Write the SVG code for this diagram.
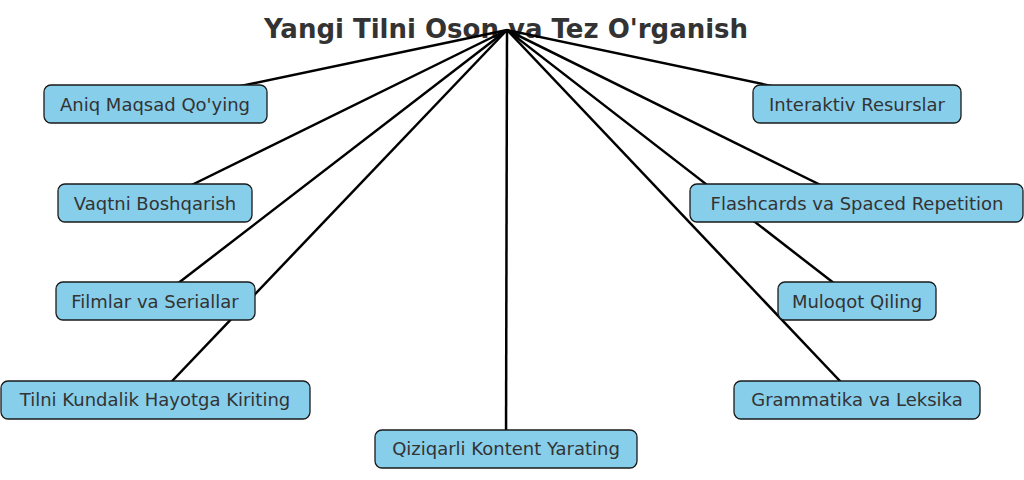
<svg xmlns="http://www.w3.org/2000/svg" width="1024" height="480" viewBox="0 0 1024 480">
<style>
.t{font-family:"DejaVu Sans",sans-serif;font-size:18px;fill:#333;text-anchor:middle;dominant-baseline:central}
.b{fill:#87CEEB;stroke:#1a1a1a;stroke-width:1.3}
.l{stroke:#000;stroke-width:2.5;fill:none}
</style>
<rect width="1024" height="480" fill="#fff"/>
<text x="506" y="29" style="font-family:'DejaVu Sans',sans-serif;font-weight:bold;font-size:26px;fill:#333;text-anchor:middle;dominant-baseline:central">Yangi Tilni Oson va Tez O'rganish</text>
<g id="connectors">
<line class="l" x1="507" y1="30" x2="155" y2="104"/>
<line class="l" x1="507" y1="30" x2="155" y2="203"/>
<line class="l" x1="507" y1="30" x2="155" y2="301"/>
<line class="l" x1="507" y1="30" x2="155" y2="399"/>
<line class="l" x1="507" y1="30" x2="506" y2="448"/>
<line class="l" x1="507" y1="30" x2="857" y2="104"/>
<line class="l" x1="507" y1="30" x2="857" y2="203"/>
<line class="l" x1="507" y1="30" x2="857" y2="301"/>
<line class="l" x1="507" y1="30" x2="857" y2="399"/>
</g>
<g id="n1"><rect class="b" x="44" y="85" width="223" height="38" rx="7"/><text class="t" x="155" y="104">Aniq Maqsad Qo'ying</text></g>
<g id="n2"><rect class="b" x="58" y="184" width="194" height="38" rx="7"/><text class="t" x="155" y="203">Vaqtni Boshqarish</text></g>
<g id="n3"><rect class="b" x="56" y="282" width="199" height="38" rx="7"/><text class="t" x="155" y="301">Filmlar va Seriallar</text></g>
<g id="n4"><rect class="b" x="1" y="381" width="309" height="38" rx="7"/><text class="t" x="155" y="399">Tilni Kundalik Hayotga Kiriting</text></g>
<g id="n5"><rect class="b" x="375" y="430" width="262" height="38" rx="7"/><text class="t" x="506" y="448">Qiziqarli Kontent Yarating</text></g>
<g id="n6"><rect class="b" x="753" y="85" width="208" height="38" rx="7"/><text class="t" x="857" y="104">Interaktiv Resurslar</text></g>
<g id="n7"><rect class="b" x="690" y="184" width="333" height="38" rx="7"/><text class="t" x="857" y="203">Flashcards va Spaced Repetition</text></g>
<g id="n8"><rect class="b" x="778" y="282" width="158" height="38" rx="7"/><text class="t" x="857" y="301">Muloqot Qiling</text></g>
<g id="n9"><rect class="b" x="734" y="381" width="246" height="38" rx="7"/><text class="t" x="857" y="399">Grammatika va Leksika</text></g>
</svg>
